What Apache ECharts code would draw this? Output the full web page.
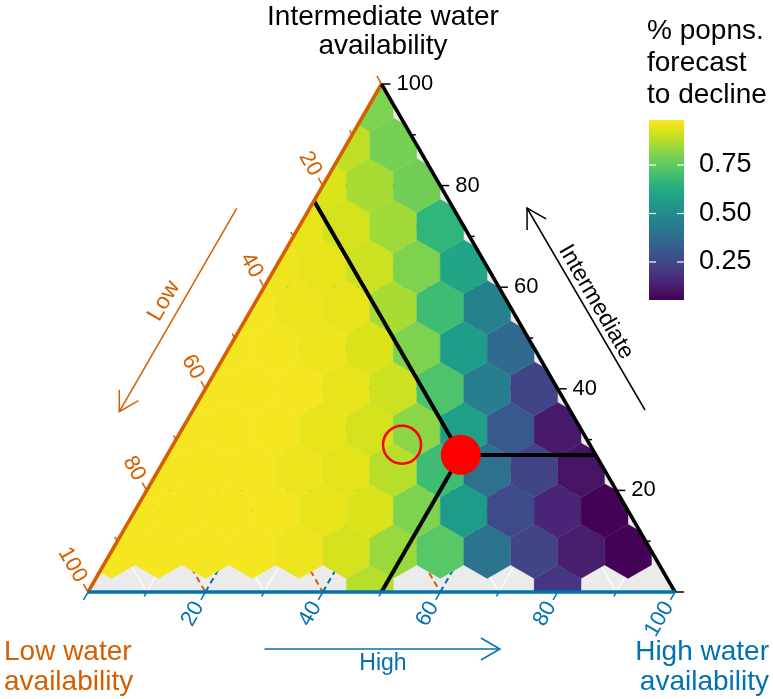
<!DOCTYPE html>
<html><head><meta charset="utf-8">
<script src="https://cdn.jsdelivr.net/npm/echarts@6/dist/echarts.min.js"></script>
<style>html,body{margin:0;padding:0;background:#fff}#c{width:773px;height:699px}</style>
</head><body><div id="c"></div>
<script>
// ---------- data ----------
const BIN = 0.08;               // hex bin width (ternary cartesian units)
// fraction of populations forecast to decline, one array per hex row (index = column)
const row0  = [null,null,null,null,null,null,0.88,null,null,null,0.20];
const row1  = [0.97,0.97,0.97,0.97,0.96,0.92,0.84,0.74,0.41,0.24,0.13,0.06];
const row2  = [null,0.97,0.97,0.97,0.97,0.95,0.93,0.80,0.56,0.26,0.15,0.06];
const row3  = [null,0.97,0.97,0.97,0.96,0.94,0.88,0.69,0.40,0.24,0.10];
const row4  = [null,null,0.97,0.97,0.97,0.95,0.92,0.82,0.58,0.31,0.12];
const row5  = [null,null,0.97,0.97,0.97,0.95,0.91,0.72,0.45,0.24];
const row6  = [null,null,null,0.97,0.97,0.96,0.93,0.80,0.57,0.37];
const row7  = [null,null,null,0.97,0.96,0.95,0.86,0.69,0.46];
const row8  = [null,null,null,null,0.96,0.95,0.91,0.80,0.60];
const row9  = [null,null,null,null,0.95,0.92,0.85,0.66];
const row10 = [null,null,null,null,null,0.93,0.86,0.78];
const row11 = [null,null,null,null,null,0.89,0.79];
const row12 = [null,null,null,null,null,null,0.80];
const hexRows = [row0,row1,row2,row3,row4,row5,row6,row7,row8,row9,row10,row11,row12];

// points (Low, Intermediate, High) in %
const focalPoint = [23, 27, 50];
const refPoint   = [32, 29, 39];

const axisMajor = [0,20,40,60,80,100];
const axisMinor = [10,30,50,70,90];
const axisLabels = [20,40,60,80,100];

const valueMin = 0.054, valueMax = 0.982;
const colorbarTicks = [0.25, 0.50, 0.75];
const viridis = ['#440154','#471365','#482475','#463480','#414487','#3B528B','#355F8D','#2F6C8E','#2A788E','#25848E','#21918C','#1E9C89','#22A884','#2FB47C','#44BF70','#5EC962','#7AD151','#9BD93C','#BDDF26','#DFE318','#FDE725'];

const ORANGE = '#D55E00', BLUE = '#0072B2', BLACK = '#000000';
const FONT = '"Liberation Sans", Arial, sans-serif';

// ---------- helpers ----------
const H = Math.sqrt(3) / 2;
function tern(L, T, R) { const s = L + T + R; return [(R + T / 2) / s, (T * H) / s]; }

const hexData = [];
hexRows.forEach((row, r) => {
  row.forEach((v, k) => {
    if (v == null) return;
    hexData.push([BIN * k + (r % 2 ? BIN / 2 : 0), r * BIN * H, v]);
  });
});

const clipEdges = [p => p[1], p => Math.sqrt(3) * p[0] - p[1], p => Math.sqrt(3) * (1 - p[0]) - p[1]];
function clipPoly(poly) {
  for (const f of clipEdges) {
    const out = [];
    for (let i = 0; i < poly.length; i++) {
      const a = poly[i], b = poly[(i + 1) % poly.length];
      const fa = f(a), fb = f(b);
      if (fa >= 0) out.push(a);
      if ((fa >= 0) !== (fb >= 0)) {
        const t = fa / (fa - fb);
        out.push([a[0] + t * (b[0] - a[0]), a[1] + t * (b[1] - a[1])]);
      }
    }
    poly = out;
    if (!poly.length) break;
  }
  return poly;
}

function hexRender(params, api) {
  const cx = api.value(0), cy = api.value(1);
  const hw = BIN / 2, rr = BIN / Math.sqrt(3);
  let poly = [[cx, cy + rr], [cx + hw, cy + rr / 2], [cx + hw, cy - rr / 2], [cx, cy - rr], [cx - hw, cy - rr / 2], [cx - hw, cy + rr / 2]];
  poly = clipPoly(poly);
  if (poly.length < 3) return null;
  const col = api.visual('color');
  return { type: 'polygon', shape: { points: poly.map(p => api.coord(p)) }, style: { fill: col, stroke: col, lineWidth: 0.3 } };
}

function bgRender(params, api) {
  const P = (L, T, R) => api.coord(tern(L, T, R));
  const ch = [];
  ch.push({ type: 'polygon', shape: { points: [P(1,0,0), P(0,0,1), P(0,1,0)] }, style: { fill: '#EBEBEB' } });
  const seg = (a, b, style) => ch.push({ type: 'line', shape: { x1: a[0], y1: a[1], x2: b[0], y2: b[1] }, style });
  axisMinor.forEach(v => {
    const c = v / 100;
    const st = { stroke: '#FFFFFF', lineWidth: 1.3 };
    seg(P(c, 1 - c, 0), P(c, 0, 1 - c), st);
    seg(P(1 - c, c, 0), P(0, c, 1 - c), st);
    seg(P(1 - c, 0, c), P(0, 1 - c, c), st);
  });
  axisMajor.slice(1, -1).forEach(v => {
    const c = v / 100;
    seg(P(c, 1 - c, 0), P(c, 0, 1 - c), { stroke: ORANGE, lineWidth: 2, lineDash: [6, 4] });
    seg(P(1 - c, c, 0), P(0, c, 1 - c), { stroke: BLACK, lineWidth: 2, lineDash: [6, 4] });
    seg(P(1 - c, 0, c), P(0, 1 - c, c), { stroke: BLUE, lineWidth: 2, lineDash: [6, 4] });
  });
  return { type: 'group', children: ch };
}

function axesRender(params, api) {
  const P = (L, T, R) => api.coord(tern(L, T, R));
  const ch = [];
  const seg = (a, b, style) => ch.push({ type: 'line', shape: { x1: a[0], y1: a[1], x2: b[0], y2: b[1] }, style });
  const dL = [-0.5, -H], dT = [1, 0], dR = [-0.5, H];
  const ticks = axisMajor.map(v => [v, 9]).concat(axisMinor.map(v => [v, 5]));
  ticks.forEach(([v, len]) => {
    const c = v / 100;
    const pl = P(c, 1 - c, 0), pt = P(0, c, 1 - c), pr = P(1 - c, 0, c);
    seg(pl, [pl[0] + dL[0] * len, pl[1] + dL[1] * len], { stroke: ORANGE, lineWidth: 1.5 });
    seg(pt, [pt[0] + dT[0] * len, pt[1] + dT[1] * len], { stroke: BLACK, lineWidth: 1.5 });
    seg(pr, [pr[0] + dR[0] * len, pr[1] + dR[1] * len], { stroke: BLUE, lineWidth: 1.5 });
  });
  seg(P(1,0,0), P(0,1,0), { stroke: ORANGE, lineWidth: 3.5 });
  seg(P(0,0,1), P(0,1,0), { stroke: BLACK, lineWidth: 3.5 });
  seg(P(1,0,0), P(0,0,1), { stroke: BLUE, lineWidth: 3.5 });
  axisLabels.forEach(v => {
    const c = v / 100;
    const pl = P(c, 1 - c, 0), pt = P(0, c, 1 - c), pr = P(1 - c, 0, c);
    ch.push({ type: 'text', x: pl[0] + dL[0] * 13, y: pl[1] + dL[1] * 13, rotation: -Math.PI / 3,
      style: { text: String(v), fill: ORANGE, fontSize: 22, fontFamily: FONT, align: 'right', verticalAlign: 'middle' } });
    ch.push({ type: 'text', x: pt[0] + 15, y: pt[1],
      style: { text: String(v), fill: BLACK, fontSize: 22, fontFamily: FONT, align: 'left', verticalAlign: 'middle' } });
    ch.push({ type: 'text', x: pr[0] + dR[0] * 13, y: pr[1] + dR[1] * 13, rotation: Math.PI / 3,
      style: { text: String(v), fill: BLUE, fontSize: 22, fontFamily: FONT, align: 'right', verticalAlign: 'middle' } });
  });
  return { type: 'group', children: ch };
}

// lines from focal point to the three edges (constant Low, Intermediate, High)
const [fL, fT, fR] = focalPoint;
const focalXY = tern(fL, fT, fR);
const guideLines = [
  { coords: [focalXY, tern(fL, 100 - fL, 0)] },
  { coords: [focalXY, tern(0, fT, 100 - fT)] },
  { coords: [focalXY, tern(100 - fR, 0, fR)] }
];

// ---------- graphic annotations ----------
function arrow(tail, tip, color, arm) {
  const dx = tail[0] - tip[0], dy = tail[1] - tip[1], len = Math.hypot(dx, dy);
  const ux = dx / len, uy = dy / len;
  const rot = a => [ux * Math.cos(a) - uy * Math.sin(a), ux * Math.sin(a) + uy * Math.cos(a)];
  const a1 = rot(Math.PI / 6), a2 = rot(-Math.PI / 6);
  return [
    { type: 'line', shape: { x1: tail[0], y1: tail[1], x2: tip[0], y2: tip[1] }, style: { stroke: color, lineWidth: 1.5 } },
    { type: 'polyline', shape: { points: [[tip[0] + a1[0] * arm, tip[1] + a1[1] * arm], tip, [tip[0] + a2[0] * arm, tip[1] + a2[1] * arm]] },
      style: { stroke: color, lineWidth: 1.5, fill: null } }
  ];
}
function txt(text, x, y, color, size, align, rot) {
  return { type: 'text', x, y, rotation: rot || 0,
    style: { text, fill: color, fontSize: size, fontFamily: FONT, align: align || 'center', verticalAlign: 'middle' } };
}

const CB = { x: 649, y: 120, w: 35, h: 180 };
const cbY = v => CB.y + CB.h - (v - valueMin) / (valueMax - valueMin) * CB.h;
const graphics = [];
graphics.push(...arrow([236.7, 208.3], [119.3, 411.7], ORANGE, 22));
graphics.push(...arrow([645, 410], [527, 208], BLACK, 22));
graphics.push(...arrow([264.5, 649], [500, 649], BLUE, 22));
graphics.push(txt('Low', 164, 301, ORANGE, 23, 'center', Math.PI / 3));
graphics.push(txt('Intermediate', 596, 302, BLACK, 23, 'center', -Math.PI / 3));
graphics.push(txt('High', 383, 664, BLUE, 23));
graphics.push(txt('Intermediate water', 383, 17, BLACK, 28));
graphics.push(txt('availability', 383, 46, BLACK, 28));
graphics.push(txt('Low water', 4, 652, ORANGE, 28, 'left'));
graphics.push(txt('availability', 4, 682, ORANGE, 28, 'left'));
graphics.push(txt('High water', 769, 652, BLUE, 28, 'right'));
graphics.push(txt('availability', 769, 682, BLUE, 28, 'right'));
graphics.push(txt('% popns.', 647, 31, BLACK, 28, 'left'));
graphics.push(txt('forecast', 647, 63, BLACK, 28, 'left'));
graphics.push(txt('to decline', 647, 95, BLACK, 28, 'left'));
graphics.push({ type: 'rect', shape: { x: CB.x, y: CB.y, width: CB.w, height: CB.h },
  style: { fill: new echarts.graphic.LinearGradient(0, 1, 0, 0, viridis.map((c, i) => ({ offset: i / (viridis.length - 1), color: c }))) } });
colorbarTicks.forEach(v => {
  const y = cbY(v);
  graphics.push({ type: 'line', shape: { x1: CB.x, y1: y, x2: CB.x + 7, y2: y }, style: { stroke: '#fff', lineWidth: 1.2 } });
  graphics.push({ type: 'line', shape: { x1: CB.x + CB.w - 7, y1: y, x2: CB.x + CB.w, y2: y }, style: { stroke: '#fff', lineWidth: 1.2 } });
  graphics.push(txt(v.toFixed(2), 699, y, BLACK, 27, 'left'));
});

const chart = echarts.init(document.getElementById('c'), null, { renderer: 'canvas' });
chart.setOption({
  animation: false,
  backgroundColor: '#ffffff',
  grid: { left: 88, top: 84, width: 587, height: 508, containLabel: false },
  xAxis: { type: 'value', min: 0, max: 1, show: false },
  yAxis: { type: 'value', min: 0, max: H, show: false },
  visualMap: { show: false, type: 'continuous', min: valueMin, max: valueMax, dimension: 2, seriesIndex: 1, inRange: { color: viridis } },
  series: [
    { type: 'custom', name: 'bg', z: 1, silent: true, data: [[0.5, 0.3]], renderItem: bgRender },
    { type: 'custom', name: 'hex', z: 2, silent: true, data: hexData, renderItem: hexRender, encode: { x: 0, y: 1 } },
    { type: 'lines', name: 'guides', z: 3, coordinateSystem: 'cartesian2d', silent: true, data: guideLines,
      lineStyle: { color: BLACK, width: 4, opacity: 1 } },
    { type: 'custom', name: 'axes', z: 4, silent: true, data: [[0.5, 0.3]], renderItem: axesRender },
    { type: 'scatter', name: 'ref', z: 5, silent: true, data: [tern(...refPoint)], symbolSize: 38,
      itemStyle: { color: 'rgba(0,0,0,0)', borderColor: '#FF0000', borderWidth: 2.5, opacity: 1 } },
    { type: 'scatter', name: 'focal', z: 6, silent: true, data: [focalXY], symbolSize: 40,
      itemStyle: { color: '#FF0000', opacity: 1 } }
  ],
  graphic: graphics
});
</script></body></html>
